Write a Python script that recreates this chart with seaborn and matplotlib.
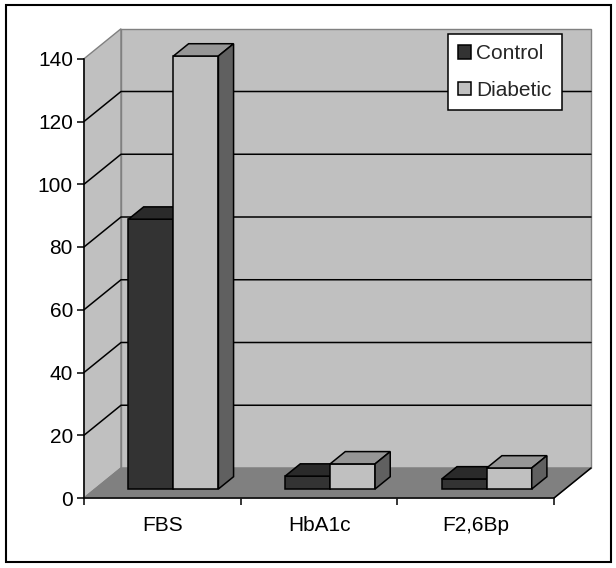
import numpy as np
import pandas as pd
import matplotlib
matplotlib.use("Agg")
import matplotlib.pyplot as plt
import matplotlib.patches as mpatches
from matplotlib.patches import Polygon, Rectangle
from matplotlib.lines import Line2D
from matplotlib.transforms import offset_copy, IdentityTransform
import seaborn as sns

categories = ["FBS", "HbA1c", "F2,6Bp"]
groups = ["Control", "Diabetic"]
control = [86.0, 4.1, 3.2]
diabetic = [138.0, 8.0, 6.7]
yticks = [0, 20, 40, 60, 80, 100, 120, 140]

sns.set_style("white")
plt.rcParams["font.family"] = ["Liberation Sans", "DejaVu Sans"]

W, H = 616, 568
fig = plt.figure(figsize=(W / 100, H / 100), dpi=100)
ax = fig.add_axes([84 / W, 70 / H, 470 / W, 439.25 / H])

df = pd.DataFrame({
    "category": categories * 2,
    "group": [groups[0]] * 3 + [groups[1]] * 3,
    "value": control + diabetic,
})

front = {"Control": "#333333", "Diabetic": "#c0c0c0"}
topc = {"Control": "#2a2a2a", "Diabetic": "#969696"}
sidec = {"Control": "#1e1e1e", "Diabetic": "#606060"}

sns.barplot(data=df, x="category", y="value", hue="group", hue_order=groups,
            order=categories, palette=front, width=0.574, errorbar=None,
            edgecolor="black", linewidth=1.1, saturation=1, legend=False, ax=ax)

ax.set_xlim(-0.5, 2.5)
ax.set_ylim(0, 140)
ax.patch.set_visible(False)
ax.set_xlabel("")
ax.set_ylabel("")
for s in ["top", "right"]:
    ax.spines[s].set_visible(False)
for s in ["left", "bottom"]:
    ax.spines[s].set_color("black")
    ax.spines[s].set_linewidth(1.1)
    ax.spines[s].set_zorder(5)

ax.set_yticks(yticks)
ax.tick_params(axis="y", direction="out", length=5, width=1.1, labelsize=15,
               pad=3, color="black", left=True, labelcolor="black")
ax.set_xticks(range(len(categories)))
ax.set_xticklabels(categories)
ax.tick_params(axis="x", which="major", length=0, pad=13, labelsize=15, labelcolor="black")
ax.set_xticks([-0.5, 0.5, 1.5, 2.5], minor=True)
ax.tick_params(axis="x", which="minor", length=5, width=1.1, bottom=True,
               direction="out", color="black")

DX, DY = 37.0, 30.0
FB, BB = 0.30, 0.71


def disp(x, y, d=0.0):
    px, py = ax.transData.transform((x, y))
    return (px + DX * d, py + DY * d)


def poly(pts, fc, ec, z, lw=1.0):
    p = Polygon(pts, closed=True, facecolor=fc, edgecolor=ec, linewidth=lw,
                transform=IdentityTransform(), clip_on=False, zorder=z)
    ax.add_artist(p)
    return p


x0, x1 = -0.5, 2.5
ymax = yticks[-1]
# walls and floor
poly([disp(x0, 0, 0), disp(x0, ymax, 0), disp(x0, ymax, 1), disp(x0, 0, 1)],
     "#c0c0c0", "#808080", 0.5)
poly([disp(x0, 0, 1), disp(x0, ymax, 1), disp(x1, ymax, 1), disp(x1, 0, 1)],
     "#c0c0c0", "#808080", 0.5)
poly([disp(x0, 0, 0), disp(x1, 0, 0), disp(x1, 0, 1), disp(x0, 0, 1)],
     "#808080", "#808080", 0.7)
for v in yticks[1:-1]:
    pts = [disp(x0, v, 0), disp(x0, v, 1), disp(x1, v, 1)]
    ax.add_artist(Line2D([p[0] for p in pts], [p[1] for p in pts], color="black",
                         linewidth=1.1, transform=IdentityTransform(),
                         clip_on=False, zorder=0.6))
pts = [disp(x1, 0, 0), disp(x1, 0, 1)]
ax.add_artist(Line2D([p[0] for p in pts], [p[1] for p in pts], color="black",
                     linewidth=1.1, transform=IdentityTransform(),
                     clip_on=False, zorder=0.8))

# 3D bars
shift = offset_copy(ax.transData, fig=fig, x=DX * FB, y=DY * FB, units="dots")
for zi, (cont, g) in enumerate(zip(ax.containers, groups)):
    z = 3 + zi
    for rect in cont:
        bx = rect.get_x()
        bw = rect.get_width()
        bh = rect.get_height()
        rect.set_transform(shift)
        rect.set_clip_on(False)
        rect.set_zorder(z)
        poly([disp(bx, bh, FB), disp(bx + bw, bh, FB), disp(bx + bw, bh, BB), disp(bx, bh, BB)],
             topc[g], "black", z, lw=1.1)
        poly([disp(bx + bw, 0, FB), disp(bx + bw, bh, FB), disp(bx + bw, bh, BB), disp(bx + bw, 0, BB)],
             sidec[g], "black", z, lw=1.1)

handles = [mpatches.Patch(facecolor=front[g], edgecolor="black", linewidth=1.1, label=g)
           for g in groups]
leg = ax.legend(handles=handles, loc="upper left", bbox_to_anchor=(448 / W, 1 - 34 / H),
                bbox_transform=fig.transFigure, frameon=True, fancybox=False,
                edgecolor="black", framealpha=1, fontsize=15, handlelength=0.62,
                handleheight=0.62, handletextpad=0.22, labelspacing=0.84,
                borderpad=0.5, borderaxespad=0)
leg.get_frame().set_linewidth(1.1)
leg.set_zorder(10)

fig.add_artist(Rectangle((6 / W, 6 / H), 605 / W, 557 / H, transform=fig.transFigure,
                         fill=False, edgecolor="black", linewidth=1.5))

fig.savefig("out.png", dpi=100)
